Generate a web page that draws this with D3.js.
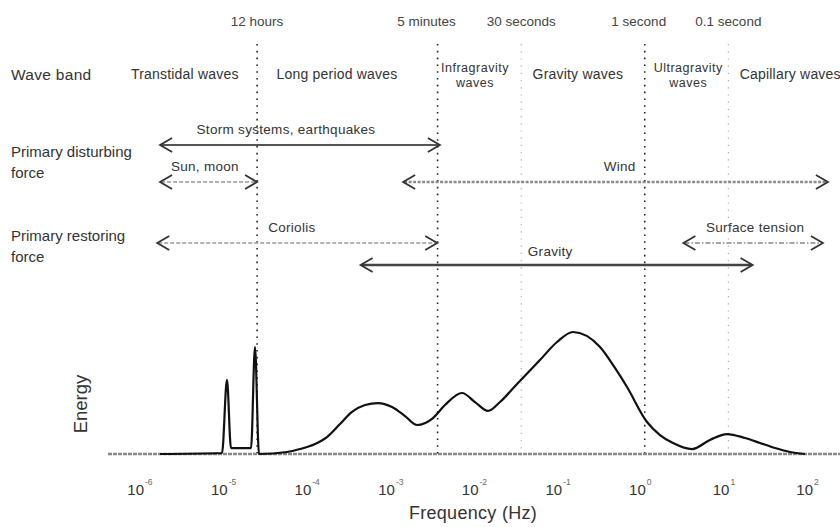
<!DOCTYPE html>
<html>
<head>
<meta charset="utf-8">
<script src="https://cdn.jsdelivr.net/npm/d3@7"></script>
<style>
	body { margin: 0; background: #fff; }
	text { font-family: 'Liberation Sans', Arial, sans-serif; fill: #333; }
</style>
</head>
<body>
<div id="chart"></div>
<script>
// spectrum curve: log10 of frequency and relative energy
var curveExp = [-5.797, -5.055, -4.996, -4.948, -4.708, -4.661, -4.613, -4.278, -4.123, -3.943, -3.8, -3.644,
	-3.501, -3.345, -3.19, -3.022, -2.867, -2.723, -2.532, -2.389, -2.185, -2.03, -1.874, -1.731, -1.516, -1.253,
	-1.049, -0.858, -0.535, -0.356, -0.212, 0.027, 0.182, 0.338, 0.565, 0.78, 0.984, 1.199, 1.378, 1.558, 1.737,
	1.916];
var curveEnergy = [0, 0.008, 0.597, 0.048, 0.048, 0.863, 0, 0.016, 0.04, 0.081, 0.137, 0.242,
	0.339, 0.395, 0.411, 0.379, 0.306, 0.234, 0.29, 0.395, 0.492, 0.419, 0.347, 0.419, 0.573, 0.758,
	0.903, 0.984, 0.863, 0.694, 0.54, 0.258, 0.153, 0.089, 0.04, 0.113, 0.161, 0.129, 0.089, 0.048, 0.016,
	0];

var tickExp = [-6, -5, -4, -3, -2, -1, 0, 1, 2];

// period markers (seconds)
var periodLabels = ['12 hours', '5 minutes', '30 seconds', '1 second', '0.1 second'];
var periodSeconds = [43200, 300, 30, 1, 0.1];
var periodStrong = [true, true, false, true, false];

// wave bands, centre frequency in log10 Hz
var bandNames = [['Transtidal waves'], ['Long period waves'], ['Infragravity', 'waves'], ['Gravity waves'],
	['Ultragravity', 'waves'], ['Capillary waves']];
var bandExp = [-5.5, -3.68, -2.03, -0.8, 0.52, 1.74];

// forces: start / end frequency (Hz)
var forceNames = ['Storm systems, earthquakes', 'Sun, moon', 'Wind', 'Coriolis', 'Gravity', 'Surface tension'];
var forceFrom = [1.6e-6, 1.6e-6, 1.29e-3, 1.48e-6, 4.0e-4, 2.9];
var forceTo = [3.55e-3, 2.31e-5, 155, 3.3e-3, 19.5, 135];
var forceRow = [0, 1, 1, 2, 3, 2];
var forceLabelExp = [-4.29, -5.26, -0.3, -4.22, -1.13, 1.32];

var rowNames = [['Primary disturbing', 'force'], ['Primary restoring', 'force']];

var w = 840,
	h = 527;

var x = d3.scaleLog().domain([ 1e-6, 1e2 ]).range([ 143, 812 ]);
var y = d3.scaleLinear().domain([ 0, 1 ]).range([ 454, 330 ]);
var rowY = d3.scaleOrdinal().domain([ 0, 1, 2, 3 ]).range([ 145, 182, 243, 265 ]);

var svg = d3.select('#chart').append('svg').attr('width', w).attr('height', h);

// vertical period markers
var labelShift = [0, -11, 0, -6, 0];
periodSeconds.forEach(function(s, i) {
	var px = x(1 / s);
	svg
		.append('line')
		.attr('x1', px)
		.attr('x2', px)
		.attr('y1', 44)
		.attr('y2', 456)
		.attr('stroke', periodStrong[i] ? '#222' : '#aaa')
		.attr('stroke-width', periodStrong[i] ? 1.6 : 1.2)
		.attr('stroke-dasharray', periodStrong[i] ? '1.6,5.2' : '1.2,6');
	svg
		.append('text')
		.attr('x', px + labelShift[i])
		.attr('y', 26)
		.attr('text-anchor', 'middle')
		.style('font-size', '13.5px')
		.style('fill', '#444')
		.text(periodLabels[i]);
});

// row titles
svg.append('text').attr('x', 11).attr('y', 80).style('font-size', '15.5px').style('letter-spacing', '0.3px').text('Wave band');
rowNames.forEach(function(lines, i) {
	lines.forEach(function(t, j) {
		svg
			.append('text')
			.attr('x', 11)
			.attr('y', (i == 0 ? 157 : 241) + j * 21)
			.style('font-size', '15px')
			.text(t);
	});
});

// band labels
bandNames.forEach(function(lines, i) {
	var base = lines.length == 1 ? 79 : 72;
	lines.forEach(function(t, j) {
		svg
			.append('text')
			.attr('x', x(Math.pow(10, bandExp[i])))
			.attr('y', base + j * 14.5)
			.attr('text-anchor', 'middle')
			.style('font-size', lines.length == 1 ? '14px' : '12.5px')
			.style('letter-spacing', lines.length == 1 ? '0.2px' : '0.5px')
			.text(t);
	});
});

// force arrows
var styles = [
	{ stroke: '#555', width: 2, dash: null },
	{ stroke: '#999', width: 1.6, dash: '4,2' },
	{ stroke: '#8a8a8a', width: 2.6, dash: '3,1.5' },
	{ stroke: '#999', width: 1.6, dash: '4,2' },
	{ stroke: '#444', width: 2.6, dash: null },
	{ stroke: '#888', width: 1.6, dash: '5,2,1.5,2' }
];

function head(px, py, dir) {
	return 'M' + (px + dir * 12) + ',' + (py - 7) + 'L' + px + ',' + py + 'L' + (px + dir * 12) + ',' + (py + 7);
}

forceNames.forEach(function(name, i) {
	var x0 = x(forceFrom[i]),
		x1 = x(forceTo[i]),
		py = rowY(forceRow[i]),
		st = styles[i];
	svg
		.append('line')
		.attr('x1', x0 + 1)
		.attr('x2', x1 - 1)
		.attr('y1', py)
		.attr('y2', py)
		.attr('stroke', st.stroke)
		.attr('stroke-width', st.width)
		.attr('stroke-dasharray', st.dash);
	svg.append('path').attr('d', head(x0, py, 1)).attr('fill', 'none').attr('stroke', '#333').attr('stroke-width', 1.8);
	svg.append('path').attr('d', head(x1, py, -1)).attr('fill', 'none').attr('stroke', '#333').attr('stroke-width', 1.8);
	svg
		.append('text')
		.attr('x', x(Math.pow(10, forceLabelExp[i])))
		.attr('y', py - (i == 4 ? 9 : 11))
		.attr('text-anchor', 'middle')
		.style('font-size', '13.5px')
		.style('letter-spacing', '0.3px')
		.text(name);
});

// baseline
svg
	.append('line')
	.attr('x1', 108)
	.attr('x2', 840)
	.attr('y1', y(0))
	.attr('y2', y(0))
	.attr('stroke', '#888')
	.attr('stroke-width', 2.4)
	.attr('stroke-dasharray', '4,1');

// spectrum
var pts = curveExp.map(function(e, i) {
	return [ Math.pow(10, e), curveEnergy[i] ];
});

var line = d3
	.line()
	.x(function(d) {
		return x(d[0]);
	})
	.y(function(d) {
		return y(d[1]);
	})
	.curve(d3.curveMonotoneX);

svg.append('path').datum(pts).attr('d', line).attr('fill', 'none').attr('stroke', '#111').attr('stroke-width', 2.2);

// tick labels
var ticks = svg.selectAll('.tick').data(tickExp).enter().append('g').attr('class', 'tick');
ticks
	.append('text')
	.attr('x', function(d) {
		return x(Math.pow(10, d)) + 1;
	})
	.attr('y', 495)
	.attr('text-anchor', 'end')
	.style('font-size', '15px')
	.text('10');
ticks
	.append('text')
	.attr('x', function(d) {
		return x(Math.pow(10, d)) + 2;
	})
	.attr('y', 485)
	.style('font-size', '8.5px')
	.style('fill', '#666')
	.text(function(d) {
		return d;
	});

// axis titles
svg
	.append('text')
	.attr('transform', 'translate(87,404) rotate(-90)')
	.attr('text-anchor', 'middle')
	.style('font-size', '18.5px')
	.text('Energy');

svg
	.append('text')
	.attr('x', 473)
	.attr('y', 519)
	.attr('text-anchor', 'middle')
	.style('font-size', '18px')
	.style('letter-spacing', '0.3px')
	.text('Frequency (Hz)');
</script>
</body>
</html>
